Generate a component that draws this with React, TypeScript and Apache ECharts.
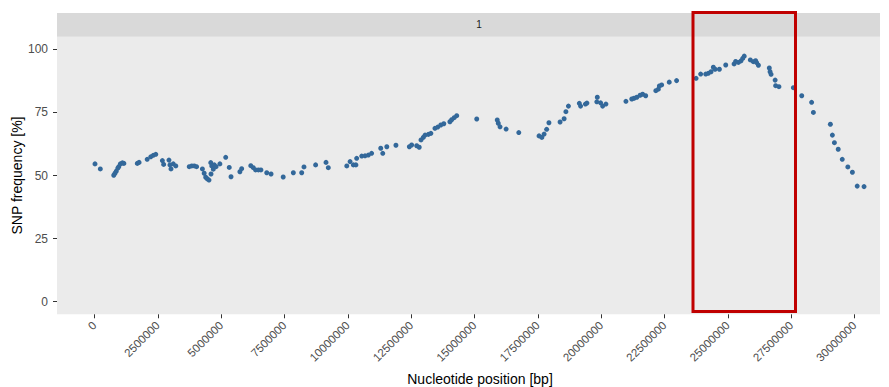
import React, { useEffect, useRef } from "react";
import * as echarts from "echarts";

const positions = [
  20000, 230000, 760000, 810000, 860000, 920000, 960000, 1020000, 1100000, 1160000,
  1690000, 1760000, 2080000, 2220000, 2320000, 2420000, 2680000, 2730000, 2940000, 2980000,
  3020000, 3110000, 3210000, 3740000, 3840000, 3940000, 4030000, 4260000, 4330000, 4390000,
  4450000, 4520000, 4590000, 4630000, 4690000, 4600000, 4730000, 4800000, 4950000, 5180000,
  5320000, 5390000, 5740000, 5810000, 6170000, 6270000, 6360000, 6470000, 6570000, 6800000,
  6970000, 7450000, 7850000, 8180000, 8270000, 8730000, 9140000, 9230000, 9960000, 10090000,
  10220000, 10320000, 10350000, 10550000, 10680000, 10810000, 10940000, 11300000, 11380000, 11540000,
  11900000, 12430000, 12520000, 12720000, 12820000, 12890000, 12980000, 13050000, 13180000, 13280000,
  13440000, 13550000, 13670000, 13790000, 14030000, 14100000, 14200000, 14300000, 15090000, 15900000,
  15940000, 16010000, 16250000, 16750000, 17550000, 17660000, 17750000, 17850000, 17940000, 18380000,
  18540000, 18610000, 18710000, 19140000, 19190000, 19380000, 19440000, 19850000, 19830000, 19980000,
  20060000, 20190000, 20980000, 21210000, 21300000, 21410000, 21540000, 21640000, 21760000, 22160000,
  22260000, 22300000, 22390000, 22690000, 22980000, 23750000, 23930000, 24130000, 24230000, 24340000,
  24430000, 24500000, 24670000, 24920000, 25250000, 25310000, 25420000, 25520000, 25590000, 25650000,
  25890000, 26010000, 26100000, 26140000, 26210000, 26640000, 26670000, 26710000, 26870000, 26890000,
  27020000, 27590000, 27920000, 28310000, 28380000, 29050000, 29130000, 29210000, 29360000, 29520000,
  29740000, 29920000, 30110000, 30380000,
];

const frequencies = [
  54.6, 52.6, 50.1, 50.9, 51.7, 52.9, 53.5, 54.6, 55.0, 54.8,
  54.8, 55.2, 56.4, 57.4, 58.0, 58.4, 55.9, 54.4, 56.1, 54.2,
  52.6, 54.6, 53.8, 53.5, 53.8, 53.8, 53.5, 52.6, 50.9, 49.3,
  48.7, 48.2, 55.1, 53.8, 52.5, 50.6, 54.2, 53.5, 54.6, 57.2,
  53.2, 49.5, 51.5, 52.7, 53.9, 53.1, 52.2, 52.2, 52.2, 51.1,
  50.6, 49.4, 51.1, 51.1, 53.4, 54.2, 55.2, 53.1, 53.8, 55.5,
  54.2, 54.2, 56.8, 57.7, 57.8, 58.1, 58.8, 60.8, 58.8, 61.4,
  62.0, 61.4, 62.1, 61.8, 61.2, 64.1, 65.1, 66.0, 66.3, 66.7,
  68.7, 69.2, 70.0, 70.5, 71.3, 72.1, 72.9, 73.7, 72.4, 72.0,
  70.7, 69.3, 68.4, 67.0, 65.7, 65.1, 66.4, 68.3, 70.9, 71.2,
  72.5, 75.3, 77.5, 78.6, 77.5, 78.3, 78.7, 81.0, 79.2, 78.8,
  77.5, 78.3, 79.4, 80.3, 80.6, 81.0, 81.8, 82.2, 81.6, 83.6,
  84.2, 85.5, 85.9, 87.0, 87.6, 88.5, 90.2, 90.2, 90.5, 91.1,
  92.9, 92.1, 92.1, 93.8, 94.2, 95.2, 94.8, 95.4, 96.4, 97.3,
  95.8, 95.1, 95.5, 94.7, 93.7, 92.6, 91.1, 90.1, 87.8, 85.6,
  85.2, 84.8, 81.6, 79.0, 75.0, 70.3, 66.0, 63.0, 60.4, 56.4,
  53.4, 51.3, 45.8, 45.6,
];

const xTicks = [0, 2500000, 5000000, 7500000, 10000000, 12500000, 15000000, 17500000, 20000000, 22500000, 25000000, 27500000, 30000000];
const yTicks = [0, 25, 50, 75, 100];
const stripLabel = "1";
const xTitle = "Nucleotide position [bp]";
const yTitle = "SNP frequency [%]";

const FONT = "'Liberation Sans', Arial, sans-serif";

export default function App() {
  const ref = useRef<HTMLDivElement>(null);
  useEffect(() => {
    if (!ref.current) return;
    const chart = echarts.init(ref.current, undefined, { renderer: "svg" });
    const gridLeft = 57;
    const gridRight = 880;
    const gridTop = 36.7;
    const gridBottom = 314.3;
    chart.setOption({
      animation: false,
      backgroundColor: "#FFFFFF",
      grid: {
        left: gridLeft,
        right: 889 - gridRight,
        top: gridTop,
        bottom: 387 - gridBottom,
        show: true,
        backgroundColor: "#EBEBEB",
        borderWidth: 0,
        containLabel: false,
        outerBoundsMode: "none",
      },
      xAxis: {
        type: "value",
        min: -1480000,
        max: 31010000,
        name: xTitle,
        nameLocation: "middle",
        nameGap: 58,
        nameMoveOverlap: false,
        nameTextStyle: { fontFamily: FONT, fontSize: 14, color: "#000000", padding: [0, 0, 0, 23] },
        axisLine: { show: false, onZero: false },
        splitLine: { show: false },
        axisTick: { show: true, length: 4, lineStyle: { color: "#333333" }, customValues: xTicks },
        axisLabel: {
          customValues: xTicks,
          rotate: 45,
          margin: 9,
          fontFamily: FONT,
          fontSize: 11.5,
          color: "#4D4D4D",
          formatter: (v: number) => String(v),
        },
      },
      yAxis: {
        type: "value",
        min: -5,
        max: 105,
        name: yTitle,
        nameLocation: "middle",
        nameGap: 33,
        nameMoveOverlap: false,
        nameRotate: 90,
        nameTextStyle: { fontFamily: FONT, fontSize: 14, color: "#000000" },
        axisLine: { show: false, onZero: false },
        splitLine: { show: false },
        axisTick: { show: true, length: 4, lineStyle: { color: "#333333" }, customValues: yTicks },
        axisLabel: {
          customValues: yTicks,
          margin: 9,
          fontFamily: FONT,
          fontSize: 12,
          color: "#4D4D4D",
        },
      },
      series: [
        {
          type: "scatter",
          data: positions.map((p, i) => [p, frequencies[i]]),
          symbolSize: 5,
          itemStyle: { color: "#33689A", opacity: 1 },
        },
      ],
      graphic: [
        {
          type: "rect",
          shape: { x: gridLeft, y: 13, width: gridRight - gridLeft, height: gridTop - 13 },
          style: { fill: "#D9D9D9" },
          z: 0,
        },
        {
          type: "text",
          x: 479,
          y: (13 + gridTop) / 2,
          style: {
            text: stripLabel,
            fontFamily: FONT,
            fontSize: 10,
            fill: "#1A1A1A",
            align: "center",
            verticalAlign: "middle",
          },
          z: 1,
        },
        {
          type: "rect",
          shape: { x: 693, y: 12.5, width: 102.5, height: 299 },
          style: { fill: "none", stroke: "#C00000", lineWidth: 3 },
          z: 100,
        },
      ],
    });
    return () => chart.dispose();
  }, []);
  return <div ref={ref} style={{ width: 889, height: 387, position: "absolute", left: 0, top: 0 }} />;
}
